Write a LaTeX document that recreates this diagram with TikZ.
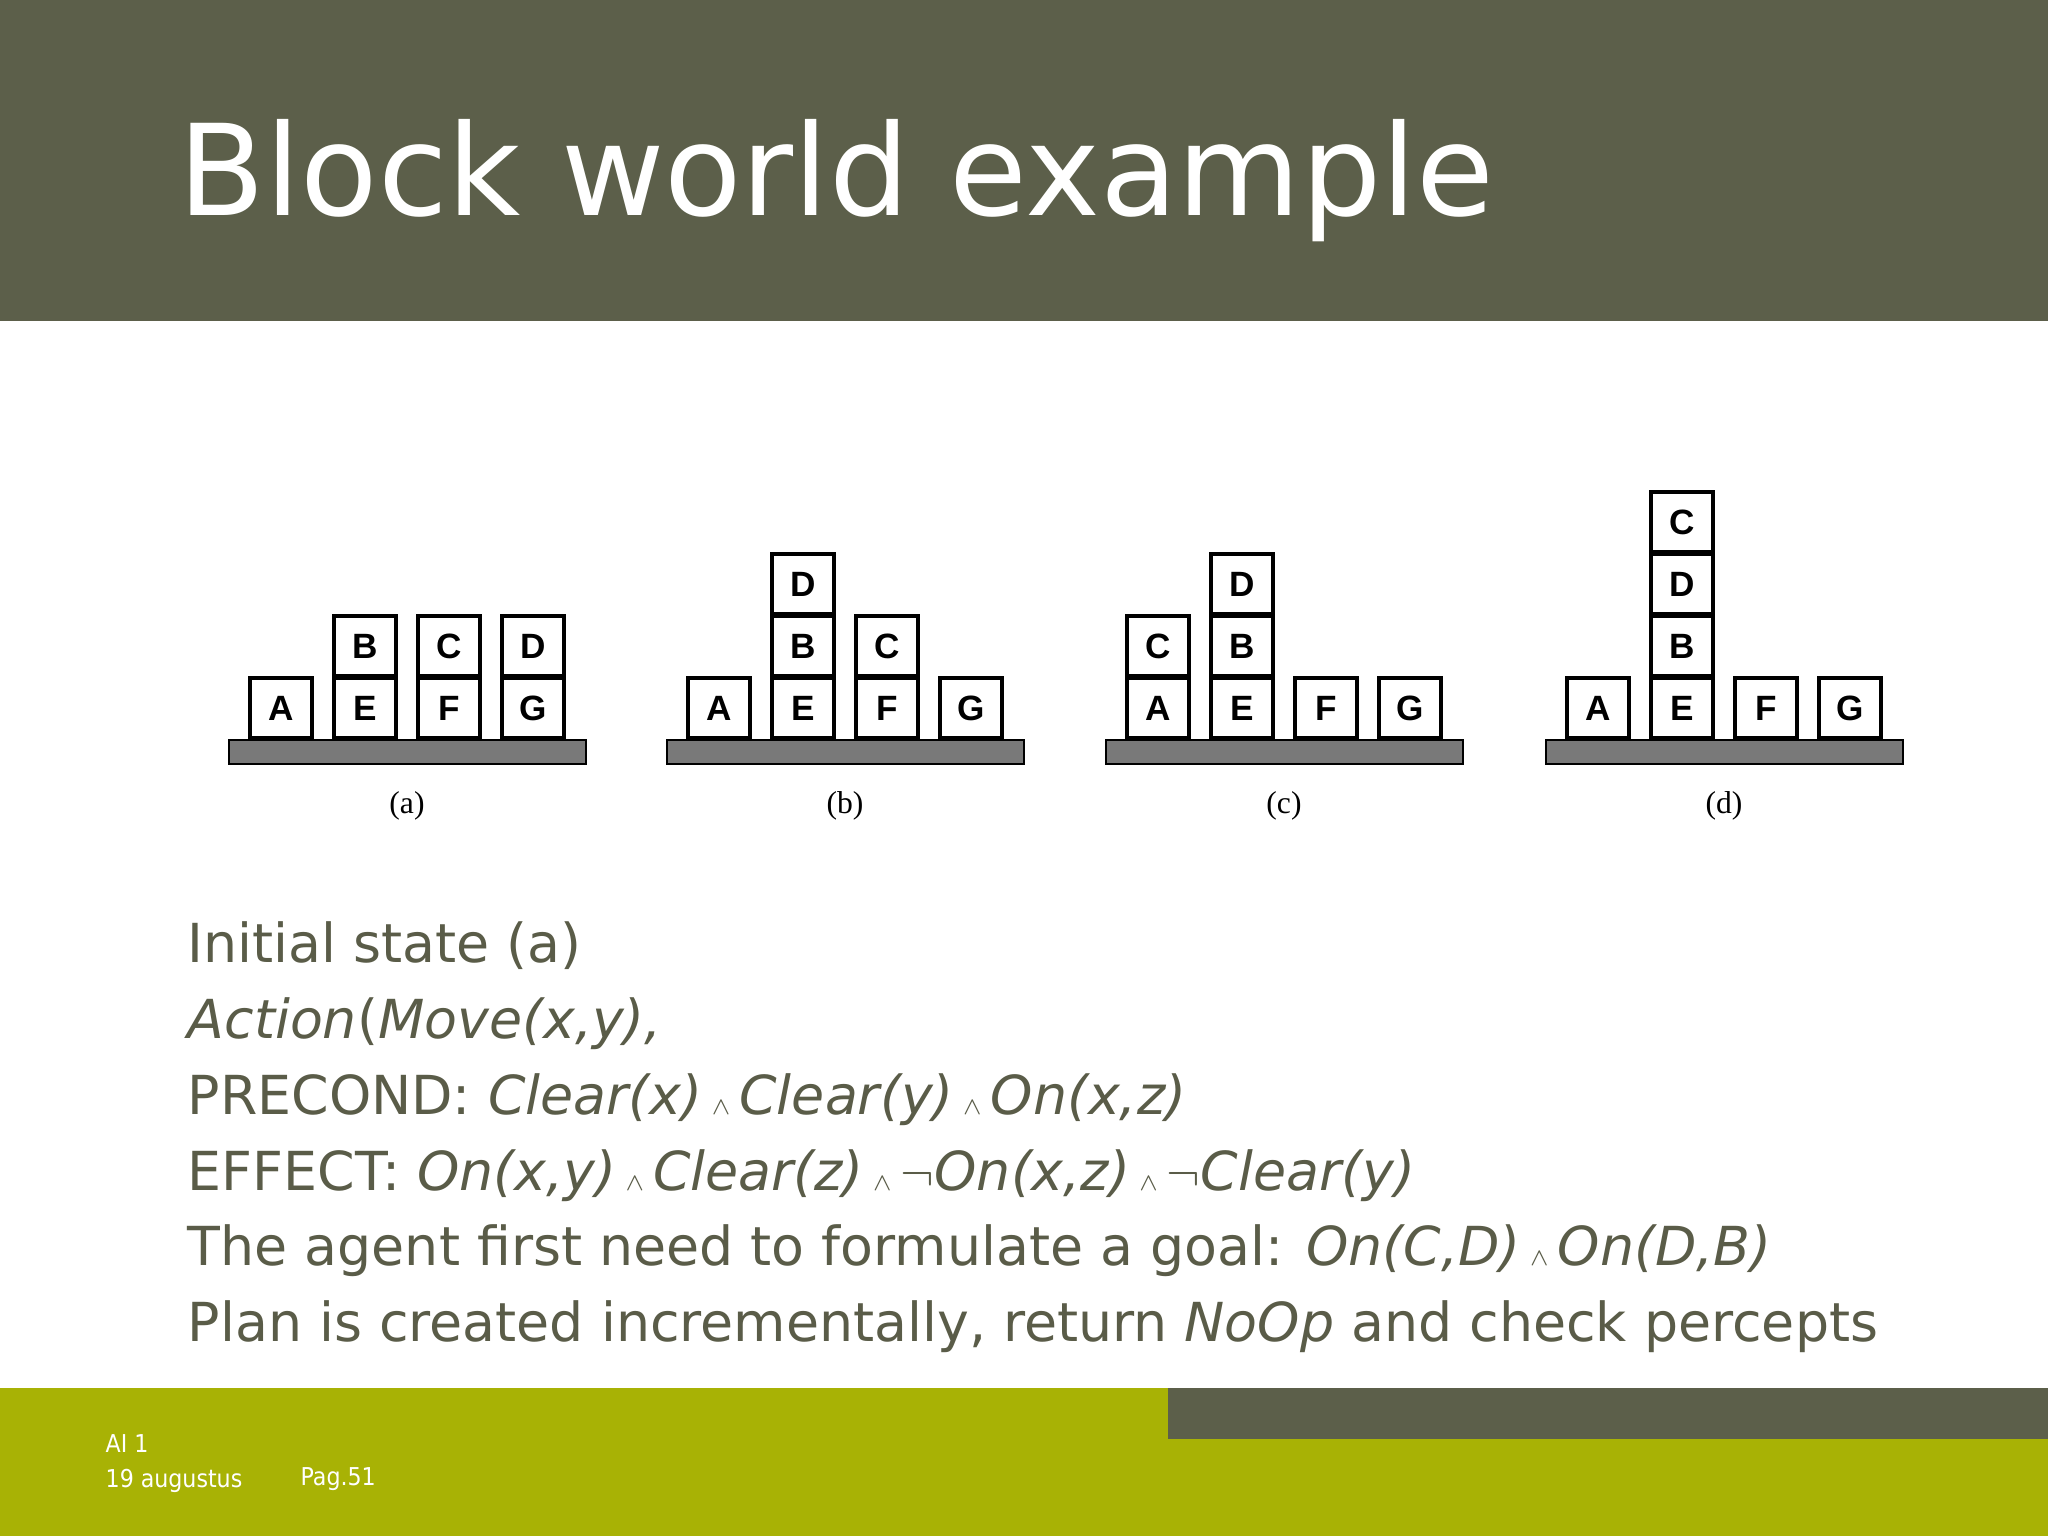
\documentclass[tikz,border=0pt]{standalone}
\usepackage{fontspec}
\setmainfont{DejaVu Sans}
\newfontfamily\blockfont{Liberation Sans}
\newfontfamily\capfont{Liberation Serif}
\newfontfamily\footfont{DejaVu Sans Condensed}
\definecolor{olive}{HTML}{5C5F4A}
\definecolor{lime}{HTML}{A8B205}
\definecolor{txt}{HTML}{5A5C48}
\tikzset{
  blk/.style={draw=black,line width=1.4pt,fill=white,minimum width=62\pxu,minimum height=60\pxu,inner sep=0pt,font=\blockfont\bfseries\fontsize{10}{12}\selectfont},
  bar/.style={draw=black,line width=0.8pt,fill=gray!95!black},
  body/.style={anchor=base west,text=txt,font=\fontsize{15.3}{18}\selectfont,inner sep=0pt}
}
\newlength\pxu \setlength\pxu{0.1mm}
\newcommand{\AND}{\,{\scriptsize$\wedge$}\,}
\newcommand{\NOT}{$\neg$}
\begin{document}
\begin{tikzpicture}[x=0.1mm,y=-0.1mm]
\useasboundingbox (0,0) rectangle (2048,1536);
\fill[white] (0,0) rectangle (2048,1536);
\fill[olive] (0,0) rectangle (2048,321);
\node[anchor=base west,text=white,font=\fontsize{36}{40}\selectfont,inner sep=0pt] (title) at (178,215) {Block world example};
\fill[lime] (0,1388) rectangle (2048,1536);
\fill[olive] (1168,1388) rectangle (2048,1439);
\node[anchor=base west,text=white,font=\footfont\fontsize{7}{8}\selectfont,inner sep=0pt] (f1) at (105,1452) {AI 1};
\node[anchor=base west,text=white,font=\footfont\fontsize{7}{8}\selectfont,inner sep=0pt] (f2) at (105,1487) {19 augustus};
\node[anchor=base west,text=white,font=\footfont\fontsize{7}{8}\selectfont,inner sep=0pt] (f3) at (300,1485) {Pag.51};
% panels
\foreach \px/\lab/\nm in {229/a/pa,667/b/pb,1106/c/pc,1546/d/pd}{
  \draw[bar] (\px,740) rectangle ++(357,24);
  \node[font=\capfont\fontsize{9}{10}\selectfont] (\nm) at (\px+178,806) {(\lab)};
}
\newcommand{\blkat}[4]{\node[blk] (#4) at (#1+52+#2*84,708-#3*62) {#4};}
% (a)
\foreach \c/\r/\n in {0/0/A,1/0/E,2/0/F,3/0/G,1/1/B,2/1/C,3/1/D}{\node[blk] (a\n) at (229+52+\c*84,708-\r*62) {\n};}
% (b)
\foreach \c/\r/\n in {0/0/A,1/0/E,2/0/F,3/0/G,1/1/B,1/2/D,2/1/C}{\node[blk] (b\n) at (667+52+\c*84,708-\r*62) {\n};}
% (c)
\foreach \c/\r/\n in {0/0/A,0/1/C,1/0/E,1/1/B,1/2/D,2/0/F,3/0/G}{\node[blk] (c\n) at (1106+52+\c*84,708-\r*62) {\n};}
% (d)
\foreach \c/\r/\n in {0/0/A,1/0/E,1/1/B,1/2/D,1/3/C,2/0/F,3/0/G}{\node[blk] (d\n) at (1546+52+\c*84,708-\r*62) {\n};}
% body text
\node[body] (l1) at (187,962) {Initial state (a)};
\node[body] (l2) at (187,1038) {\itshape Action\upshape(\itshape Move(x,y),};
\node[body] (l3) at (187,1114) {PRECOND: \itshape Clear(x)\AND Clear(y)\AND On(x,z)};
\node[body] (l4) at (187,1190) {EFFECT: \itshape On(x,y)\AND Clear(z)\AND \NOT On(x,z)\AND \NOT Clear(y)};
\node[body] (l5) at (187,1265) {The agent first need to formulate a goal: \itshape On(C,D)\AND On(D,B)};
\node[body] (l6) at (187,1341) {Plan is created incrementally, return \itshape NoOp\upshape\ and check percepts};
\end{tikzpicture}
\end{document}
